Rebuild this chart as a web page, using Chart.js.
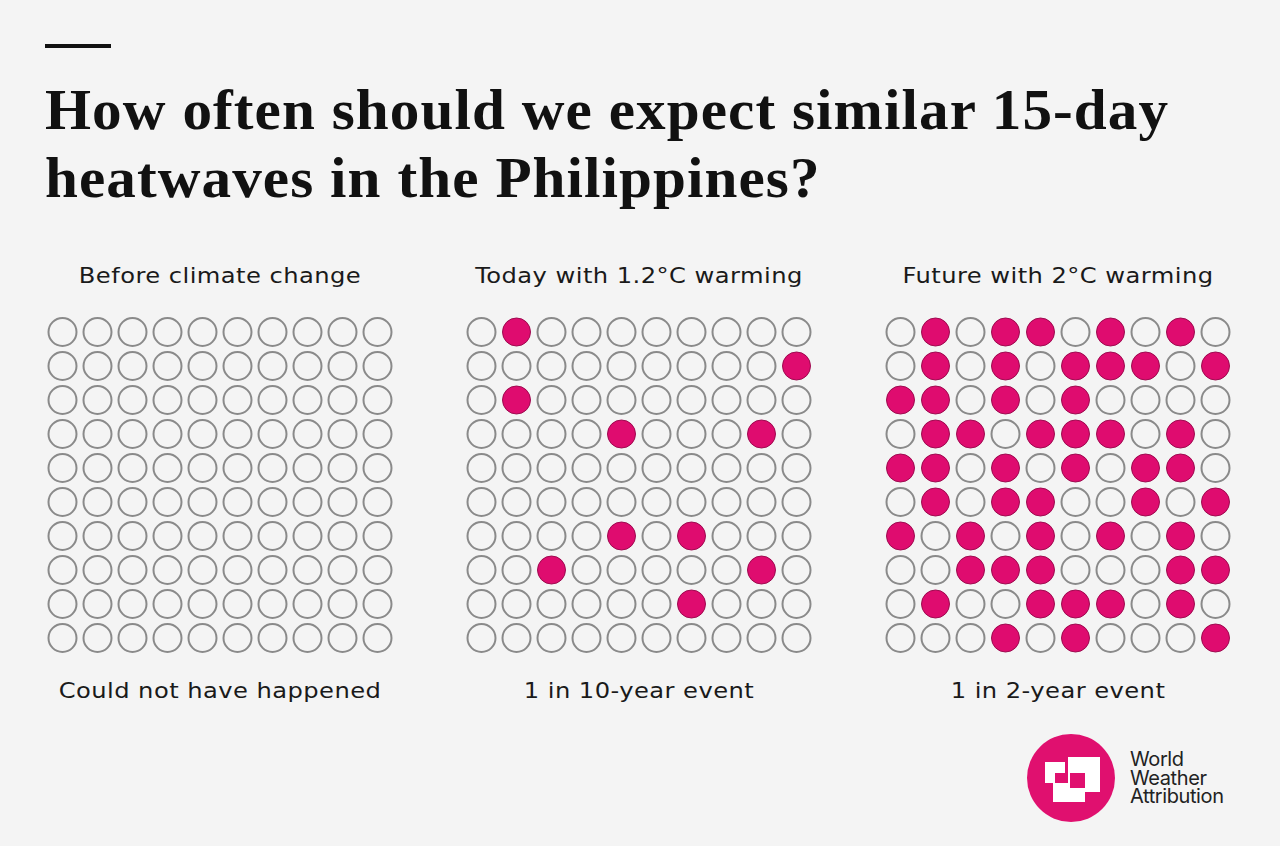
<!DOCTYPE html>
<html>
<head>
<meta charset="utf-8">
<script src="https://cdn.jsdelivr.net/npm/chart.js@4/dist/chart.umd.min.js"></script>
<style>
  body { margin: 0; background: #f4f4f4; }
  #page { position: relative; width: 1280px; height: 846px; background: #f4f4f4; overflow: hidden; }
  .rule { position: absolute; left: 45px; top: 44px; width: 66px; height: 4px; background: #111; }
  h1 { position: absolute; left: 45px; top: 76px; margin: 0; font-family: "Liberation Serif", serif; font-weight: bold;
       font-size: 56px; line-height: 68px; color: #111; letter-spacing: 1px; white-space: nowrap;
       transform: scaleX(1.057); transform-origin: left top; }
  .label { position: absolute; width: 420px; text-align: center; font-family: "DejaVu Sans", sans-serif;
           font-size: 22px; line-height: 26px; color: #1a1a1a; letter-spacing: 0.4px;
           transform: scaleX(1.1); transform-origin: center top; }
  .panel { position: absolute; top: 315px; width: 350px; height: 340px; }
  .logo { position: absolute; left: 1027px; top: 734px; }
  .logotext { position: absolute; left: 1130px; top: 750px; font-family: Inter, sans-serif; font-size: 20px;
              line-height: 18.5px; color: #222; letter-spacing: -0.4px; }
</style>
</head>
<body>
<div id="page">
  <div class="rule"></div>
  <h1>How often should we expect similar 15-day<br>heatwaves in the Philippines?</h1>
  <div id="panels"></div>
  <svg class="logo" width="90" height="90" viewBox="0 0 90 90">
    <circle cx="44" cy="44" r="44" fill="#e0106f"/>
    <rect x="18" y="28" width="20" height="21" fill="#fff"/>
    <rect x="41" y="23" width="32" height="35" fill="#fff"/>
    <rect x="26" y="49" width="32" height="19" fill="#fff"/>
    <rect x="28" y="39" width="10" height="10" fill="#e0106f"/>
    <rect x="43" y="39" width="15" height="15" fill="#e0106f"/>
  </svg>
  <div class="logotext">World<br>Weather<br>Attribution</div>
</div>
<script>
// panels
const panelTitles = ['Before climate change', 'Today with 1.2°C warming', 'Future with 2°C warming'];
const panelCaptions = ['Could not have happened', '1 in 10-year event', '1 in 2-year event'];

// filled circles, listed per row (top to bottom) as column indexes
const beforeHits = [[], [], [], [], [], [], [], [], [], []];
const todayHits = [[1], [9], [1], [4, 8], [], [], [4, 6], [2, 8], [6], []];
const futureHits = [
  [1, 3, 4, 6, 8],
  [1, 3, 5, 6, 7, 9],
  [0, 1, 3, 5],
  [1, 2, 4, 5, 6, 8],
  [0, 1, 3, 5, 7, 8],
  [1, 3, 4, 7, 9],
  [0, 2, 4, 6, 8],
  [2, 3, 4, 8, 9],
  [1, 4, 5, 6, 8],
  [3, 5, 9]
];
const panelHits = [beforeHits, todayHits, futureHits];

const panelLeft = [45, 464, 883];
const hitColor = '#df0c6f';

const container = document.getElementById('panels');
const page = document.getElementById('page');

panelHits.forEach((hits, p) => {
    const title = document.createElement('div');
    title.className = 'label';
    title.style.left = (panelLeft[p] + 175 - 210) + 'px';
    title.style.top = '263px';
    title.textContent = panelTitles[p];
    page.appendChild(title);

    const caption = document.createElement('div');
    caption.className = 'label';
    caption.style.left = (panelLeft[p] + 175 - 210) + 'px';
    caption.style.top = '678px';
    caption.textContent = panelCaptions[p];
    page.appendChild(caption);

    const box = document.createElement('div');
    box.className = 'panel';
    box.style.left = panelLeft[p] + 'px';
    const canvas = document.createElement('canvas');
    canvas.width = 350;
    canvas.height = 340;
    box.appendChild(canvas);
    container.appendChild(box);

    const points = [];
    const fills = [];
    const borders = [];
    const widths = [];
    for (let row = 0; row < 10; row++) {
        for (let col = 0; col < 10; col++) {
            const hit = hits[row].includes(col);
            points.push({ x: col, y: row });
            fills.push(hit ? hitColor : '#f4f4f4');
            borders.push(hit ? '#9c0b4f' : '#8a8a8a');
            widths.push(hit ? 1 : 2);
        }
    }

    new Chart(canvas.getContext('2d'), {
        type: 'scatter',
        data: {
            datasets: [{
                data: points,
                pointRadius: 14,
                pointBackgroundColor: fills,
                pointBorderColor: borders,
                pointBorderWidth: widths,
                clip: false
            }]
        },
        options: {
            responsive: false,
            animation: false,
            events: [],
            layout: { padding: 0, autoPadding: false },
            plugins: { legend: { display: false }, tooltip: { enabled: false } },
            scales: {
                x: { type: 'linear', min: -0.5, max: 9.5, display: false },
                y: { type: 'linear', min: -0.5, max: 9.5, reverse: true, display: false }
            }
        }
    });
});
</script>
</body>
</html>
